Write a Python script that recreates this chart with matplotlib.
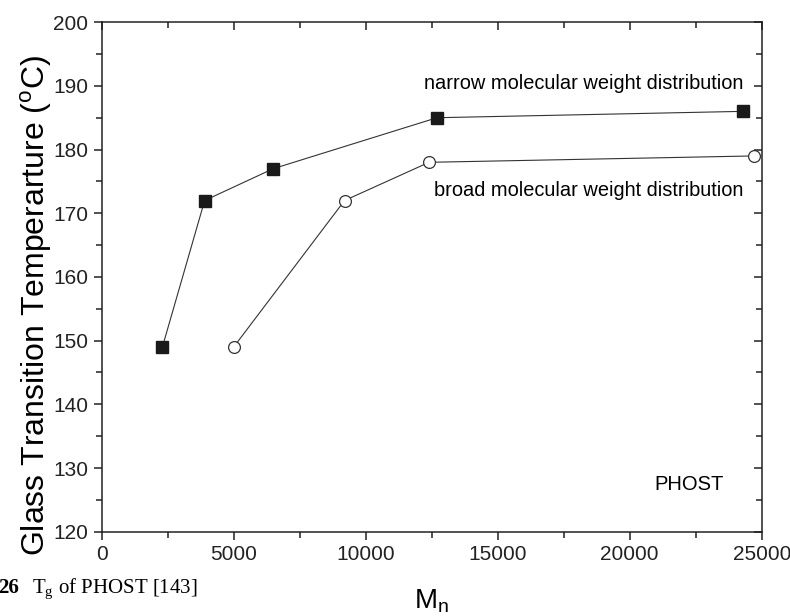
import matplotlib.pyplot as plt
from matplotlib.ticker import MultipleLocator

# Tg of PHOST vs number-average molecular weight
mn_narrow = [2300, 3900, 6500, 12700, 24300]
tg_narrow = [149, 172, 177, 185, 186]
mn_broad = [5000, 9200, 12400, 24700]
tg_broad = [149, 172, 178, 179]

plt.rcParams['font.family'] = ['Liberation Sans', 'DejaVu Sans']

fig = plt.figure(figsize=(7.9, 6.16), dpi=100)
ax = fig.add_axes([0.1287, 0.1368, 0.9642 - 0.1287, 0.964 - 0.1368])

ax.plot(mn_narrow, tg_narrow, color='#333333', lw=0.8, marker='s', ms=8,
        mfc='#1a1a1a', mec='#1a1a1a', clip_on=False)
ax.plot(mn_broad, tg_broad, color='#333333', lw=0.8, marker='o', ms=8.5,
        mfc='white', mec='#333333', mew=0.9, clip_on=False)

ax.set_xlim(0, 25000)
ax.set_ylim(120, 200)
ax.xaxis.set_major_locator(MultipleLocator(5000))
ax.xaxis.set_minor_locator(MultipleLocator(2500))
ax.yaxis.set_major_locator(MultipleLocator(10))
ax.yaxis.set_minor_locator(MultipleLocator(5))

for s in ax.spines.values():
    s.set_linewidth(1.1)
    s.set_color('#222222')

ax.tick_params(which='both', top=True, right=True, width=1.1, colors='#222222',
               labelsize=15)
ax.tick_params(which='both', axis='x', direction='out')
ax.tick_params(which='major', length=6)
ax.tick_params(which='minor', length=4)
# mirrored ticks on top/right point the same way as bottom/left
for t in ax.xaxis.get_major_ticks() + ax.xaxis.get_minor_ticks():
    t.tick2line.set_marker(3)  # tickdown
for t in ax.yaxis.get_major_ticks() + ax.yaxis.get_minor_ticks():
    t.tick2line.set_marker(0)  # tickleft

ax.set_ylabel('Glass Transition Temperarture ($^\\mathregular{o}$C)', fontsize=23)
ax.yaxis.set_label_coords(-0.072, 0.443)
ax.set_xlabel('M$_\\mathregular{n}$', fontsize=20, labelpad=17)

ax.text(24300, 190.3, 'narrow molecular weight distribution', fontsize=14.4,
        ha='right', va='center')
ax.text(24300, 173.5, 'broad molecular weight distribution', fontsize=14.4,
        ha='right', va='center')
ax.text(22250, 127.4, 'PHOST', fontsize=14.5, ha='center', va='center')

fig.text(-0.003, 0.037, '26', fontsize=15, fontweight='bold',
         family='Liberation Serif', va='baseline')
fig.text(0.041, 0.037, 'T$_\\mathregular{g}$ of PHOST [143]', fontsize=15,
         family='Liberation Serif', va='baseline')

fig.savefig('out.png', dpi=100)
